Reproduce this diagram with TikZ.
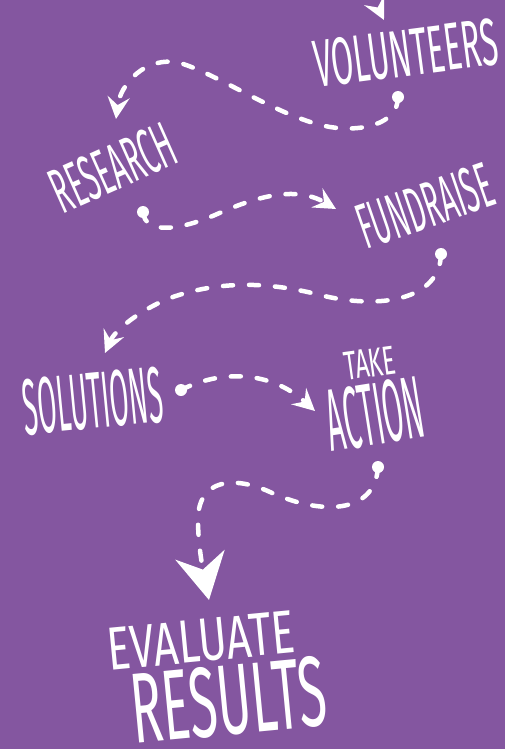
\documentclass[tikz,border=0pt]{standalone}
\usepackage{fontspec}
\usepackage{graphicx}
\usetikzlibrary{arrows.meta}
\newfontfamily\handfont{Fira Sans}
\definecolor{bgpurple}{RGB}{132,86,160}
\tikzset{
  dsh/.style={white, line width=4.5pt, line cap=round, dash pattern=on 10pt off 16pt},
  arr/.style={-{Stealth[length=22pt, width=22pt, inset=8pt]}},
  bigarr/.style={-{Stealth[length=46pt, width=50pt, inset=15pt]}},
  word/.style={inner sep=0pt, text=white, font=\handfont}
}
\begin{document}
\begin{tikzpicture}[x=1pt, y=-1pt]
\useasboundingbox (0,0) rectangle (504,749);
\fill[bgpurple] (-5,-5) rectangle (509,754);
\clip (-5,-5) rectangle (509,754);

% texts
\node[word, rotate=7.5] (vol) at (406,53) {\resizebox{185pt}{47pt}{VOLUNTEERS}};
\node[word, rotate=24] (res) at (113,168) {\resizebox{130pt}{45pt}{RESEARCH}};
\node[word, rotate=19] (fund) at (425,206) {\resizebox{140pt}{45pt}{FUNDRAISE}};
\node[word, rotate=5.5] (sol) at (93,401) {\resizebox{140pt}{56pt}{SOLUTIONS}};
\node[word, rotate=8] (take) at (370,363) {\resizebox{52pt}{28pt}{TAKE}};
\node[word, rotate=9] (act) at (375,414) {\resizebox{97pt}{62pt}{ACTION}};
\node[word, rotate=5.5] (eval) at (201,641) {\resizebox{188pt}{42pt}{EVALUATE}};
\node[word, rotate=5.5] (resl) at (229,700) {\resizebox{196pt}{70pt}{RESULTS}};

% start dots and tips
\coordinate (topstart) at (368,-12);
\coordinate (t0) at (384,20);
\coordinate (d1) at (398,97);
\coordinate (t1) at (116,119);
\coordinate (d2) at (143,212);
\coordinate (t2) at (336,209);
\coordinate (d3) at (441,254);
\coordinate (t3) at (105,353);
\coordinate (d4) at (181,390);
\coordinate (t4) at (315,411);
\coordinate (d5) at (378,467);
\coordinate (t5) at (209,600);

\foreach \d in {d1,d2,d3,d4,d5} \fill[white] (\d) circle (6pt);

% connectors
\draw[dsh, arr] (topstart) -- (t0);
\draw[dsh, arr] (d1) .. controls (398,125) and (360,132) .. (330,127)
  .. controls (280,118) and (220,75) .. (180,63)
  .. controls (145,55) and (120,85) .. (t1);
\draw[dsh, arr] (d2) .. controls (145,235) and (180,230) .. (215,215)
  .. controls (255,197) and (295,185) .. (t2);
\draw[dsh, arr] (d3) .. controls (440,300) and (380,310) .. (320,295)
  .. controls (270,282) and (220,280) .. (170,298)
  .. controls (140,310) and (115,330) .. (t3);
\draw[dsh, arr] (d4) .. controls (220,370) and (270,370) .. (t4);
\draw[dsh, bigarr] (d5) .. controls (375,515) and (320,515) .. (270,492)
  .. controls (235,476) and (198,478) .. (198,520)
  .. controls (198,545) and (203,570) .. (t5);
\end{tikzpicture}
\end{document}
